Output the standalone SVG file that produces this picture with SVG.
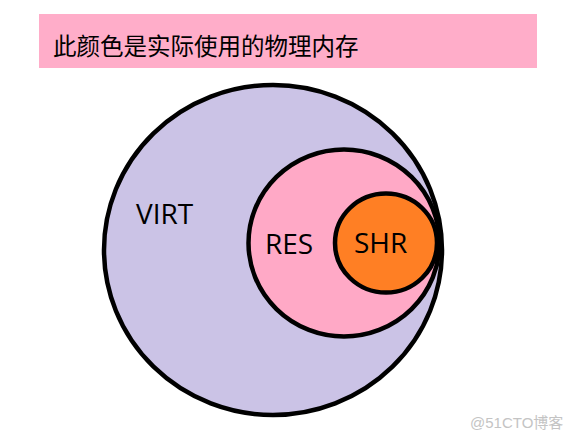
<svg xmlns="http://www.w3.org/2000/svg" width="579" height="441" viewBox="0 0 579 441">
<style>
.ring{stroke:#000;stroke-width:4.5}
.lbl{font-family:"Open Sans","Liberation Sans",sans-serif;font-size:28px;fill:#000}
.title{font-family:"Noto Sans CJK SC","Noto Sans",sans-serif;font-size:23.5px;fill:#000}
.wm{font-family:"Liberation Sans","Noto Sans CJK SC",sans-serif;font-size:15px;fill:#c4c4c4}
</style>
<rect width="579" height="441" fill="#fff"/>
<g id="banner">
<rect x="39" y="14" width="498" height="54" fill="#ffadc9"/>
<text class="title" x="53" y="55">此颜色是实际使用的物理内存</text>
</g>
<g id="virt">
<ellipse class="ring" cx="273" cy="250" rx="169" ry="165" fill="#cbc3e6"/>
<text class="lbl" x="136" y="224">VIRT</text>
</g>
<g id="res">
<ellipse class="ring" cx="344" cy="243" rx="95.5" ry="93.5" fill="#ffa9c6"/>
<text class="lbl" x="265" y="254">RES</text>
</g>
<g id="shr">
<ellipse class="ring" cx="386" cy="243" rx="51" ry="49.5" fill="#ff7f24"/>
<text class="lbl" x="354" y="253">SHR</text>
</g>
<g id="connectors"/>
<text class="wm" x="470" y="428">@51CTO博客</text>
</svg>
